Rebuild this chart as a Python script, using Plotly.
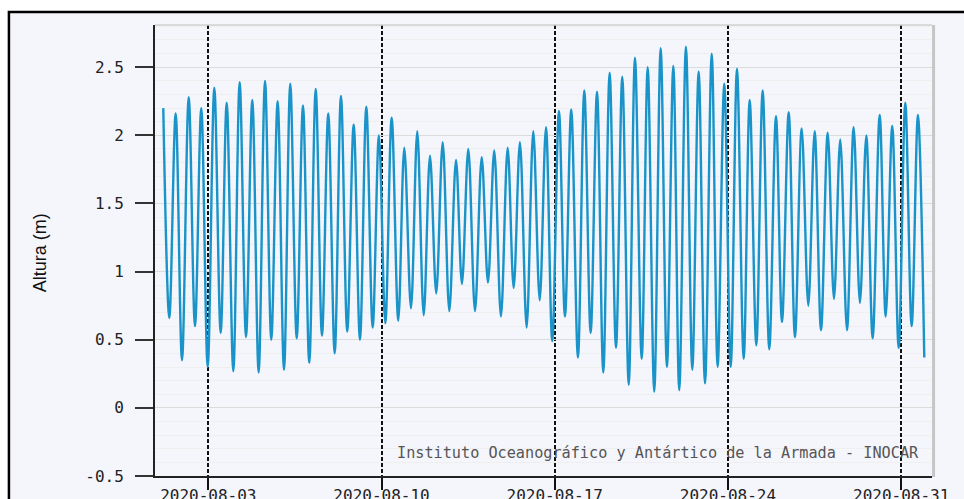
import plotly.graph_objects as go

# Predicted high / low water times and heights (m), August 2020
tide_times = [
    "2020-08-01 04:20", "2020-08-01 10:10", "2020-08-01 16:20", "2020-08-01 22:30",
    "2020-08-02 05:00", "2020-08-02 11:05", "2020-08-02 17:10", "2020-08-02 23:25",
    "2020-08-03 05:50", "2020-08-03 12:00", "2020-08-03 17:50", "2020-08-04 00:15",
    "2020-08-04 06:25", "2020-08-04 12:35", "2020-08-04 18:40", "2020-08-05 00:50",
    "2020-08-05 07:00", "2020-08-05 13:05", "2020-08-05 19:15", "2020-08-06 01:25",
    "2020-08-06 07:30", "2020-08-06 13:45", "2020-08-06 19:50", "2020-08-07 01:55",
    "2020-08-07 08:10", "2020-08-07 14:15", "2020-08-07 20:20", "2020-08-08 02:35",
    "2020-08-08 08:40", "2020-08-08 14:45", "2020-08-08 21:00", "2020-08-09 03:05",
    "2020-08-09 09:15", "2020-08-09 15:25", "2020-08-09 21:30", "2020-08-10 03:40",
    "2020-08-10 09:50", "2020-08-10 16:15", "2020-08-10 22:05", "2020-08-11 04:35",
    "2020-08-11 10:40", "2020-08-11 16:55", "2020-08-11 23:00", "2020-08-12 05:05",
    "2020-08-12 11:20", "2020-08-12 17:45", "2020-08-13 00:15", "2020-08-13 06:00",
    "2020-08-13 12:10", "2020-08-13 18:40", "2020-08-14 01:10", "2020-08-14 07:15",
    "2020-08-14 13:20", "2020-08-14 19:50", "2020-08-15 02:20", "2020-08-15 08:10",
    "2020-08-15 14:15", "2020-08-15 20:45", "2020-08-16 03:10", "2020-08-16 09:25",
    "2020-08-16 15:30", "2020-08-16 21:35", "2020-08-17 04:05", "2020-08-17 09:55",
    "2020-08-17 16:00", "2020-08-17 22:30", "2020-08-18 04:40", "2020-08-18 10:50",
    "2020-08-18 17:00", "2020-08-18 23:05", "2020-08-19 05:15", "2020-08-19 11:25",
    "2020-08-19 17:30", "2020-08-19 23:45", "2020-08-20 05:50", "2020-08-20 12:20",
    "2020-08-20 18:10", "2020-08-21 00:30", "2020-08-21 06:45", "2020-08-21 12:50",
    "2020-08-21 19:00", "2020-08-22 00:45", "2020-08-22 07:15", "2020-08-22 13:25",
    "2020-08-22 19:35", "2020-08-23 01:45", "2020-08-23 08:15", "2020-08-23 14:00",
    "2020-08-23 20:25", "2020-08-24 02:40", "2020-08-24 08:45", "2020-08-24 15:15",
    "2020-08-24 21:05", "2020-08-25 03:30", "2020-08-25 09:40", "2020-08-25 16:05",
    "2020-08-25 22:35", "2020-08-26 04:25", "2020-08-26 10:55", "2020-08-26 17:00",
    "2020-08-26 23:30", "2020-08-27 05:55", "2020-08-27 12:05", "2020-08-27 18:15",
    "2020-08-28 00:45", "2020-08-28 06:50", "2020-08-28 12:55", "2020-08-28 19:25",
    "2020-08-29 01:55", "2020-08-29 08:00", "2020-08-29 14:10", "2020-08-29 20:20",
    "2020-08-30 03:10", "2020-08-30 09:00", "2020-08-30 15:20", "2020-08-30 21:35",
    "2020-08-31 04:00", "2020-08-31 10:10", "2020-08-31 16:15", "2020-08-31 22:25",
]
tide_heights = [
    2.20, 0.66, 2.16, 0.35, 2.28, 0.60, 2.20, 0.30,
    2.35, 0.55, 2.24, 0.27, 2.39, 0.52, 2.26, 0.26,
    2.40, 0.50, 2.25, 0.28, 2.38, 0.51, 2.22, 0.33,
    2.34, 0.53, 2.16, 0.40, 2.29, 0.56, 2.08, 0.50,
    2.21, 0.59, 2.00, 0.62, 2.13, 0.64, 1.91, 0.73,
    2.03, 0.68, 1.85, 0.84, 1.95, 0.71, 1.82, 0.91,
    1.90, 0.71, 1.84, 0.92, 1.89, 0.67, 1.91, 0.88,
    1.95, 0.59, 2.03, 0.79, 2.06, 0.49, 2.18, 0.67,
    2.19, 0.37, 2.33, 0.55, 2.32, 0.26, 2.46, 0.44,
    2.43, 0.17, 2.57, 0.36, 2.50, 0.12, 2.64, 0.30,
    2.51, 0.13, 2.65, 0.28, 2.47, 0.18, 2.60, 0.30,
    2.38, 0.30, 2.49, 0.36, 2.26, 0.46, 2.33, 0.43,
    2.14, 0.63, 2.17, 0.52, 2.05, 0.75, 2.03, 0.57,
    2.02, 0.80, 1.97, 0.57, 2.06, 0.77, 2.00, 0.51,
    2.15, 0.67, 2.07, 0.44, 2.24, 0.60, 2.15, 0.37,
]

week_ticks = ["2020-08-03", "2020-08-10", "2020-08-17", "2020-08-24", "2020-08-31"]
y_ticks = [-0.5, 0, 0.5, 1, 1.5, 2, 2.5]
y_tick_labels = ["-0.5", "0", "0.5", "1", "1.5", "2", "2.5"]

tick_font = dict(family="DejaVu Sans Mono, DejaVu Sans", size=16, color="#222")

fig = go.Figure()
fig.add_trace(go.Scatter(
    x=tide_times, y=tide_heights, mode="lines",
    line=dict(color="#1a94c8", width=2.4, shape="spline", smoothing=1.0),
    hoverinfo="x+y", showlegend=False,
))

fig.update_layout(
    width=964, height=499,
    margin=dict(l=155, r=32, t=25, b=23),
    paper_bgcolor="white",
    plot_bgcolor="white",
    xaxis=dict(
        type="date", automargin=False,
        range=["2020-07-31 20:18", "2020-09-01 05:54"],
        tickvals=week_ticks, tickformat="%Y-%m-%d",
        ticks="outside", ticklen=12, tickwidth=2, tickcolor="#111",
        ticklabelstandoff=-8,
        showgrid=True, gridcolor="#111", gridwidth=2, griddash="4px,2px",
        showline=True, linecolor="#222", linewidth=2,
        tickfont=tick_font, zeroline=False,
    ),
    yaxis=dict(
        automargin=False,
        range=[-0.5, 2.81],
        tickvals=y_ticks, ticktext=y_tick_labels,
        ticks="outside", ticklen=18, tickwidth=1.5, tickcolor="#333",
        ticklabelstandoff=8,
        showgrid=True, gridcolor="#dcdcdc", gridwidth=1,
        minor=dict(dtick=0.1, showgrid=True, gridcolor="#efefef", gridwidth=1),
        showline=True, linecolor="#222", linewidth=2,
        tickfont=tick_font, zeroline=False,
    ),
    shapes=[
        # outer panel with black frame
        dict(type="rect", xref="paper", yref="paper",
             x0=-0.188, x1=1.06, y0=-0.1, y1=1.0288,
             fillcolor="#f5f5fc", line=dict(color="#000", width=2.5), layer="below"),
        # light plot border on top and right
        dict(type="line", xref="paper", yref="paper", x0=0, x1=1, y0=1, y1=1,
             line=dict(color="#d0d0d0", width=1.5)),
        dict(type="line", xref="paper", yref="paper", x0=1.002, x1=1.002, y0=-0.002, y1=1,
             line=dict(color="#c6c6c6", width=3)),
    ],
    annotations=[
        dict(text="Altura (m)", xref="paper", yref="paper", x=-0.148, y=0.494,
             xanchor="center", yanchor="middle",
             textangle=-90, showarrow=False,
             font=dict(family="Liberation Sans Narrow, Arial Narrow, Liberation Sans",
                       size=18, color="#111")),
        dict(text="Instituto Oceanográfico y Antártico de la Armada - INOCAR",
             xref="paper", yref="paper", x=0.986, y=0.051, xanchor="right", yanchor="middle",
             showarrow=False,
             font=dict(family="DejaVu Sans Mono, DejaVu Sans", size=15.2, color="#555")),
    ],
)

fig.write_html("out.html")
